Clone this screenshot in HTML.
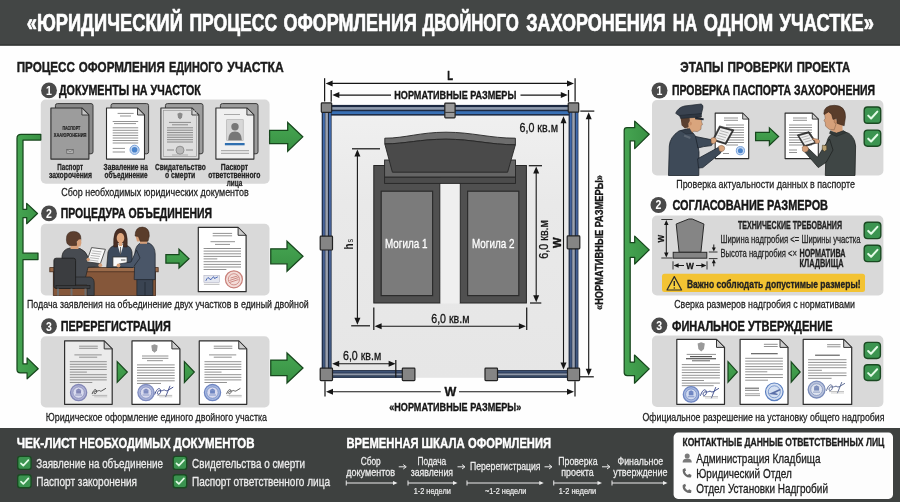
<!DOCTYPE html>
<html lang="ru"><head><meta charset="utf-8"><title>Юридический процесс оформления двойного захоронения</title>
<style>html,body{margin:0;padding:0;background:#fefefe;}body{width:900px;height:502px;overflow:hidden;font-family:"Liberation Sans",sans-serif;}svg{display:block;will-change:transform;font-family:"Liberation Sans",sans-serif;}</style></head><body>
<svg width="900" height="502" viewBox="0 0 900 502">
<defs><linearGradient id="gg" x1="0" y1="0" x2="0" y2="1"><stop offset="0" stop-color="#46a552"/><stop offset="1" stop-color="#389143"/></linearGradient><linearGradient id="dbg" x1="0" y1="0" x2="0" y2="1"><stop offset="0" stop-color="#f0f0f0"/><stop offset="0.35" stop-color="#e9e9e9"/><stop offset="1" stop-color="#e6e6e6"/></linearGradient><linearGradient id="rb" x1="0" y1="0" x2="0" y2="1"><stop offset="0" stop-color="#3f6db3"/><stop offset="0.45" stop-color="#47639a"/><stop offset="1" stop-color="#40577d"/></linearGradient><linearGradient id="gv" x1="0" y1="0" x2="1" y2="0"><stop offset="0" stop-color="#46a552"/><stop offset="1" stop-color="#389143"/></linearGradient></defs>
<rect x="0.00" y="0.00" width="900.00" height="502.00" fill="#fefefe"/>
<rect x="0.00" y="0.00" width="900.00" height="45.60" fill="#434645"/>
<rect x="0.00" y="44.20" width="900.00" height="1.40" fill="#343736"/>
<text x="26.80" y="31.10" font-size="24" font-weight="bold" fill="#fff" textLength="156.00" lengthAdjust="spacingAndGlyphs" stroke="#fff" stroke-width="0.72" stroke-linejoin="round">«ЮРИДИЧЕСКИЙ</text>
<text x="189.40" y="31.10" font-size="24" font-weight="bold" fill="#fff" textLength="87.80" lengthAdjust="spacingAndGlyphs" stroke="#fff" stroke-width="0.72" stroke-linejoin="round">ПРОЦЕСС</text>
<text x="283.60" y="31.10" font-size="24" font-weight="bold" fill="#fff" textLength="133.20" lengthAdjust="spacingAndGlyphs" stroke="#fff" stroke-width="0.72" stroke-linejoin="round">ОФОРМЛЕНИЯ</text>
<text x="422.40" y="31.10" font-size="24" font-weight="bold" fill="#fff" textLength="96.40" lengthAdjust="spacingAndGlyphs" stroke="#fff" stroke-width="0.72" stroke-linejoin="round">ДВОЙНОГО</text>
<text x="526.20" y="31.10" font-size="24" font-weight="bold" fill="#fff" textLength="139.40" lengthAdjust="spacingAndGlyphs" stroke="#fff" stroke-width="0.72" stroke-linejoin="round">ЗАХОРОНЕНИЯ</text>
<text x="672.80" y="31.10" font-size="24" font-weight="bold" fill="#fff" textLength="24.40" lengthAdjust="spacingAndGlyphs" stroke="#fff" stroke-width="0.72" stroke-linejoin="round">НА</text>
<text x="703.80" y="31.10" font-size="24" font-weight="bold" fill="#fff" textLength="69.40" lengthAdjust="spacingAndGlyphs" stroke="#fff" stroke-width="0.72" stroke-linejoin="round">ОДНОМ</text>
<text x="779.60" y="31.10" font-size="24" font-weight="bold" fill="#fff" textLength="94.20" lengthAdjust="spacingAndGlyphs" stroke="#fff" stroke-width="0.72" stroke-linejoin="round">УЧАСТКЕ»</text>
<text x="16.70" y="71.90" font-size="15" font-weight="bold" fill="#1c1c1c" textLength="58.20" lengthAdjust="spacingAndGlyphs" stroke="#1c1c1c" stroke-width="0.45" stroke-linejoin="round">ПРОЦЕСС</text>
<text x="78.70" y="71.90" font-size="15" font-weight="bold" fill="#1c1c1c" textLength="86.10" lengthAdjust="spacingAndGlyphs" stroke="#1c1c1c" stroke-width="0.45" stroke-linejoin="round">ОФОРМЛЕНИЯ</text>
<text x="169.00" y="71.90" font-size="15" font-weight="bold" fill="#1c1c1c" textLength="53.80" lengthAdjust="spacingAndGlyphs" stroke="#1c1c1c" stroke-width="0.45" stroke-linejoin="round">ЕДИНОГО</text>
<text x="227.30" y="71.90" font-size="15" font-weight="bold" fill="#1c1c1c" textLength="56.40" lengthAdjust="spacingAndGlyphs" stroke="#1c1c1c" stroke-width="0.45" stroke-linejoin="round">УЧАСТКА</text>
<circle cx="49.00" cy="90.40" r="7.90" fill="#4a4a4a"/>
<g transform="translate(49.00 94.85) scale(0.84 1)"><text x="0" y="0" font-size="12.6" font-weight="bold" fill="#fff" text-anchor="middle">1</text></g>
<text x="59.00" y="95.30" font-size="14" font-weight="bold" fill="#161616" textLength="141.75" lengthAdjust="spacingAndGlyphs" stroke="#161616" stroke-width="0.42" stroke-linejoin="round">ДОКУМЕНТЫ НА УЧАСТОК</text>
<rect x="40.80" y="99.50" width="228.80" height="84.25" rx="5" fill="#d9d9d9"/>
<path d="M40.8,134.3 L21,134.3 Q17,134.3 17,138.3 L17,369.5 Q17,372.9 20.4,372.9 L27.1,372.9 L27.1,378.8 L38.2,368.7 L27.1,357.9 L27.1,363.9 L23,363.9 L23,259.5 L38,259.5 L38,253.2 L23,253.2 L23,217.7 L26.7,217.7 L26.7,223.7 L37.5,213.5 L26.7,203.4 L26.7,209.3 L23,209.3 L23,140.1 L40.8,140.1 Z" fill="url(#gv)" stroke="#17471d" stroke-width="1.25" stroke-linejoin="round"/>
<rect x="55.40" y="103.60" width="37.60" height="50.20" rx="2" fill="#8a8a8a" stroke="#3a3a3a" stroke-width="1"/>
<path d="M50.90,108.00 L81.90,108.00 L88.90,115.00 L88.90,159.10 L50.90,159.10 Z" fill="#9c9c9c" stroke="#2e2e2e" stroke-width="1.1" stroke-linejoin="round"/>
<path d="M81.90,108.00 L81.90,115.00 L88.90,115.00 Z" fill="#c4c4c4" stroke="#2e2e2e" stroke-width="0.8800000000000001" stroke-linejoin="round"/>
<text x="62.40" y="129.90" font-size="5.8" font-weight="bold" fill="#242424" textLength="17.90" lengthAdjust="spacingAndGlyphs" stroke="#242424" stroke-width="0.22" stroke-linejoin="round">ПАСПОРТ</text>
<text x="53.80" y="137.20" font-size="5.8" font-weight="bold" fill="#242424" textLength="32.60" lengthAdjust="spacingAndGlyphs" stroke="#242424" stroke-width="0.22" stroke-linejoin="round">ХААЮРОНЕНИЯ</text>
<rect x="66.80" y="149.60" width="6.40" height="4.00" fill="#b5b5b5" stroke="#555" stroke-width="0.6"/>
<path d="M66.8,149.6 L70,152 L73.2,149.6" fill="none" stroke="#555" stroke-width="0.5"/>
<rect x="111.00" y="103.60" width="37.60" height="50.20" rx="2" fill="#9d9d9d" stroke="#3a3a3a" stroke-width="1"/>
<path d="M106.50,108.00 L137.50,108.00 L144.50,115.00 L144.50,159.10 L106.50,159.10 Z" fill="#fff" stroke="#2e2e2e" stroke-width="1.1" stroke-linejoin="round"/>
<path d="M137.50,108.00 L137.50,115.00 L144.50,115.00 Z" fill="#cfcfcf" stroke="#2e2e2e" stroke-width="0.8800000000000001" stroke-linejoin="round"/>
<line x1="117.60" y1="113.40" x2="133.70" y2="113.40" stroke="#939393" stroke-width="1.0"/>
<line x1="120.00" y1="116.00" x2="131.00" y2="116.00" stroke="#939393" stroke-width="1.0"/>
<line x1="112.70" y1="121.50" x2="138.20" y2="121.50" stroke="#939393" stroke-width="1.0"/>
<line x1="114.00" y1="123.60" x2="136.00" y2="123.60" stroke="#939393" stroke-width="1.0"/>
<line x1="112.70" y1="127.80" x2="138.20" y2="127.80" stroke="#939393" stroke-width="1.0"/>
<line x1="112.70" y1="130.30" x2="138.20" y2="130.30" stroke="#939393" stroke-width="1.0"/>
<line x1="112.70" y1="132.90" x2="138.20" y2="132.90" stroke="#939393" stroke-width="1.0"/>
<line x1="112.70" y1="135.40" x2="138.20" y2="135.40" stroke="#939393" stroke-width="1.0"/>
<line x1="112.70" y1="138.00" x2="138.20" y2="138.00" stroke="#939393" stroke-width="1.0"/>
<line x1="112.70" y1="140.50" x2="138.20" y2="140.50" stroke="#939393" stroke-width="1.0"/>
<line x1="112.70" y1="143.00" x2="138.20" y2="143.00" stroke="#939393" stroke-width="1.0"/>
<line x1="112.70" y1="148.40" x2="125.00" y2="148.40" stroke="#939393" stroke-width="1.0"/>
<line x1="112.70" y1="152.00" x2="125.00" y2="152.00" stroke="#939393" stroke-width="1.0"/>
<circle cx="134.60" cy="149.80" r="4.60" fill="#c5d8f2" stroke="#6d9ad6" stroke-width="0.9"/>
<circle cx="134.60" cy="149.80" r="2.80" fill="#4a84cc"/>
<rect x="165.40" y="103.60" width="37.60" height="50.20" rx="2" fill="#9d9d9d" stroke="#3a3a3a" stroke-width="1"/>
<path d="M160.90,108.00 L191.90,108.00 L198.90,115.00 L198.90,159.10 L160.90,159.10 Z" fill="#dedede" stroke="#2e2e2e" stroke-width="1.1" stroke-linejoin="round"/>
<path d="M191.90,108.00 L191.90,115.00 L198.90,115.00 Z" fill="#cfcfcf" stroke="#2e2e2e" stroke-width="0.8800000000000001" stroke-linejoin="round"/>
<rect x="163.40" y="110.50" width="33.00" height="46.10" fill="none" stroke="#9a9a9a" stroke-width="0.7"/>
<path d="M180,112.5 l2.6,1.2 l-0.6,3.8 l-2,2 l-2,-2 l-0.6,-3.8 Z" fill="#8a8a8a"/>
<line x1="169.00" y1="122.40" x2="191.00" y2="122.40" stroke="#8a8a8a" stroke-width="1.0"/>
<line x1="172.00" y1="124.80" x2="188.00" y2="124.80" stroke="#8a8a8a" stroke-width="1.0"/>
<line x1="167.00" y1="127.80" x2="193.00" y2="127.80" stroke="#8a8a8a" stroke-width="1.0"/>
<line x1="167.00" y1="130.20" x2="193.00" y2="130.20" stroke="#8a8a8a" stroke-width="1.0"/>
<line x1="167.00" y1="132.60" x2="193.00" y2="132.60" stroke="#8a8a8a" stroke-width="1.0"/>
<line x1="167.00" y1="135.00" x2="193.00" y2="135.00" stroke="#8a8a8a" stroke-width="1.0"/>
<line x1="167.00" y1="137.30" x2="193.00" y2="137.30" stroke="#8a8a8a" stroke-width="1.0"/>
<line x1="167.00" y1="139.70" x2="193.00" y2="139.70" stroke="#8a8a8a" stroke-width="1.0"/>
<line x1="167.00" y1="142.00" x2="193.00" y2="142.00" stroke="#8a8a8a" stroke-width="1.0"/>
<line x1="167.00" y1="150.00" x2="174.00" y2="150.00" stroke="#8a8a8a" stroke-width="1.0"/>
<line x1="186.00" y1="150.00" x2="193.00" y2="150.00" stroke="#8a8a8a" stroke-width="1.0"/>
<circle cx="180.00" cy="150.20" r="4.00" fill="#b9b9b9" stroke="#8a8a8a" stroke-width="0.9"/>
<line x1="172.00" y1="155.00" x2="188.00" y2="155.00" stroke="#9a9a9a" stroke-width="0.7"/>
<rect x="220.40" y="103.60" width="37.60" height="50.20" rx="2" fill="#9d9d9d" stroke="#3a3a3a" stroke-width="1"/>
<path d="M215.90,108.00 L246.90,108.00 L253.90,115.00 L253.90,159.10 L215.90,159.10 Z" fill="#f0f0f0" stroke="#2e2e2e" stroke-width="1.1" stroke-linejoin="round"/>
<path d="M246.90,108.00 L246.90,115.00 L253.90,115.00 Z" fill="#cfcfcf" stroke="#2e2e2e" stroke-width="0.8800000000000001" stroke-linejoin="round"/>
<line x1="224.00" y1="114.50" x2="240.00" y2="114.50" stroke="#a8a8a8" stroke-width="1.0"/>
<rect x="226.70" y="119.70" width="16.50" height="20.60" fill="#d7d7d7" stroke="#aaa" stroke-width="0.6"/>
<circle cx="235.00" cy="126.80" r="3.70" fill="#777"/>
<path d="M228.2,140.3 Q228.2,131.6 235,131.6 Q241.8,131.6 241.8,140.3 Z" fill="#777"/>
<rect x="224.90" y="143.00" width="19.70" height="2.30" fill="#2f6fb0"/>
<line x1="221.00" y1="150.70" x2="249.00" y2="150.70" stroke="#a0a0a0" stroke-width="1.0"/>
<line x1="221.00" y1="153.30" x2="249.00" y2="153.30" stroke="#a0a0a0" stroke-width="1.0"/>
<text x="57.20" y="169.60" font-size="8.8" font-weight="bold" fill="#222" textLength="25.80" lengthAdjust="spacingAndGlyphs" stroke="#222" stroke-width="0.26" stroke-linejoin="round">Паспорт</text>
<text x="48.90" y="177.60" font-size="8.8" font-weight="bold" fill="#222" textLength="43.10" lengthAdjust="spacingAndGlyphs" stroke="#222" stroke-width="0.26" stroke-linejoin="round">захорочения</text>
<text x="103.60" y="169.60" font-size="8.8" font-weight="bold" fill="#222" textLength="44.40" lengthAdjust="spacingAndGlyphs" stroke="#222" stroke-width="0.26" stroke-linejoin="round">Заваление на</text>
<text x="104.50" y="177.60" font-size="8.8" font-weight="bold" fill="#222" textLength="43.00" lengthAdjust="spacingAndGlyphs" stroke="#222" stroke-width="0.26" stroke-linejoin="round">объединение</text>
<text x="155.00" y="169.60" font-size="8.8" font-weight="bold" fill="#222" textLength="50.70" lengthAdjust="spacingAndGlyphs" stroke="#222" stroke-width="0.26" stroke-linejoin="round">Свидательство</text>
<text x="164.90" y="177.60" font-size="8.8" font-weight="bold" fill="#222" textLength="30.40" lengthAdjust="spacingAndGlyphs" stroke="#222" stroke-width="0.26" stroke-linejoin="round">о смерти</text>
<text x="220.80" y="169.60" font-size="8.8" font-weight="bold" fill="#222" textLength="27.40" lengthAdjust="spacingAndGlyphs" stroke="#222" stroke-width="0.26" stroke-linejoin="round">Паскорт</text>
<text x="208.20" y="177.60" font-size="8.8" font-weight="bold" fill="#222" textLength="52.20" lengthAdjust="spacingAndGlyphs" stroke="#222" stroke-width="0.26" stroke-linejoin="round">ответственного</text>
<text x="226.70" y="186.00" font-size="8.8" font-weight="bold" fill="#222" textLength="15.60" lengthAdjust="spacingAndGlyphs" stroke="#222" stroke-width="0.26" stroke-linejoin="round">лица</text>
<text x="61.25" y="196.30" font-size="11" fill="#222" textLength="187.50" lengthAdjust="spacingAndGlyphs" stroke="#222" stroke-width="0.26" stroke-linejoin="round">Сбор необходимых юридических документов</text>
<path d="M269.60,130.30 L287.70,130.30 L287.70,122.50 L302.80,136.85 L287.70,151.20 L287.70,143.70 L269.60,143.70 Z" fill="url(#gg)" stroke="#17471d" stroke-width="1.25" stroke-linejoin="miter"/>
<circle cx="49.00" cy="213.40" r="7.90" fill="#4a4a4a"/>
<g transform="translate(49.00 217.85) scale(0.84 1)"><text x="0" y="0" font-size="12.6" font-weight="bold" fill="#fff" text-anchor="middle">2</text></g>
<text x="60.75" y="217.60" font-size="14" font-weight="bold" fill="#161616" textLength="151.25" lengthAdjust="spacingAndGlyphs" stroke="#161616" stroke-width="0.42" stroke-linejoin="round">ПРОЦЕДУРА ОБЪЕДИНЕНИЯ</text>
<rect x="40.80" y="223.75" width="228.70" height="71.75" rx="5" fill="#d9d9d9"/>
<rect x="53.30" y="271.60" width="102.30" height="23.90" fill="#85573a" stroke="#4a2f20" stroke-width="0.8"/>
<rect x="49.80" y="267.60" width="108.40" height="4.20" fill="#9b6b4a" stroke="#4a2f20" stroke-width="0.8"/>
<path d="M106.7,267.5 L108,252 Q110,246 116,245 L125,245 Q131,246 132,252 L132.4,267.5 Z" fill="#3d4a5c" stroke="#222" stroke-width="0.7"/>
<path d="M117.6,245 L123.4,245 L120.5,255 Z" fill="#f2f2f2"/>
<line x1="120.50" y1="247.00" x2="120.50" y2="255.00" stroke="#333" stroke-width="0.7"/>
<path d="M113.8,247 Q112.6,228.5 120.5,228.5 Q128.4,228.5 127.1,247 L123.5,247 L123.5,243 L117.5,243 L117.5,247 Z" fill="#4a2f25" stroke="#2a1a14" stroke-width="0.5"/>
<ellipse cx="120.5" cy="238" rx="3.8" ry="5" fill="#e0a880"/>
<rect x="118.80" y="242.00" width="3.40" height="4.00" fill="#e0a880"/>
<rect x="112.90" y="257.00" width="14.20" height="9.80" fill="#fafafa" stroke="#333" stroke-width="0.8"/>
<line x1="121.00" y1="260.00" x2="125.50" y2="260.00" stroke="#333" stroke-width="0.8"/>
<rect x="136.90" y="279.00" width="16.00" height="16.50" fill="#3a4452" stroke="#1e242c" stroke-width="0.7"/>
<line x1="145.00" y1="282.00" x2="145.00" y2="295.50" stroke="#1e242c" stroke-width="0.7"/>
<path d="M134.2,279.6 L135,252 Q136,244 142,242.5 L149,243 Q155,246 155.2,254 L155.2,279.6 Z" fill="#4a5668" stroke="#1e242c" stroke-width="0.7"/>
<path d="M136.5,250 L131,262 L119,264 L118.2,267 L133,267.5 L140,258 Z" fill="#4a5668" stroke="#1e242c" stroke-width="0.7"/>
<rect x="140.00" y="239.50" width="7.00" height="4.30" fill="#d6a07a"/>
<path d="M135.3,235 L139,233.5 L140.5,241.3 L137,241.5 Z" fill="#d6a07a"/>
<path d="M135.1,236 Q135,227 142.5,227.1 Q149.6,227.5 149.3,236 L148,241.3 L140.3,241.3 L138.4,236.5 Z" fill="#5a3d2b" stroke="#2e1d13" stroke-width="0.5"/>
<circle cx="118.50" cy="265.50" r="1.90" fill="#d6a07a"/>
<path d="M61.5,284 L62,256 Q63,249 70,248 L80,248.5 Q86,251 88,257 L99.5,263 L100.5,266.8 L88,267.3 L84,284 Z" fill="#474b51" stroke="#222" stroke-width="0.7"/>
<path d="M70,277 L90,277 Q94.2,278 94.2,283 L94.2,295.5 L87,295.5 L87,285 L70,285 Z" fill="#41454b" stroke="#222" stroke-width="0.7"/>
<rect x="70.50" y="243.00" width="8.00" height="6.00" fill="#d6a07a"/>
<path d="M66.4,240 Q65.8,231.4 73.6,231.4 Q81.2,231.7 80.9,239 L80.2,243.4 L78.8,243.8 L78.2,240.4 L76.6,241.4 L76.6,245.4 L69.4,245.6 L67,243.4 Z" fill="#5c3e2e" stroke="#2e1d13" stroke-width="0.5"/>
<path d="M78.8,239.4 L81,239.2 L81.4,243 L80.4,246.4 L77.4,246.6 L76.8,241.6 Z" fill="#d6a07a"/>
<rect x="53.90" y="258.20" width="21.70" height="30.20" rx="2.2" fill="#3b3d40" stroke="#1c1c1c" stroke-width="0.8"/>
<rect x="56.00" y="285.50" width="34.00" height="3.10" fill="#3b3d40" stroke="#1c1c1c" stroke-width="0.6"/>
<rect x="70.50" y="288.60" width="2.00" height="6.90" fill="#6e6e6e"/>
<rect x="84.50" y="288.60" width="2.00" height="6.90" fill="#6e6e6e"/>
<rect x="57.00" y="288.60" width="2.00" height="6.90" fill="#6e6e6e"/>
<path d="M91.6,247.6 L105.4,249.3 L100.4,263.6 L86.6,261.8 Z" fill="#fafafa" stroke="#333" stroke-width="0.8"/>
<line x1="92.30" y1="250.80" x2="101.50" y2="251.90" stroke="#9a9a9a" stroke-width="0.7"/>
<line x1="91.50" y1="253.10" x2="100.70" y2="254.20" stroke="#9a9a9a" stroke-width="0.7"/>
<line x1="90.70" y1="255.40" x2="99.90" y2="256.50" stroke="#9a9a9a" stroke-width="0.7"/>
<line x1="89.90" y1="257.70" x2="99.10" y2="258.80" stroke="#9a9a9a" stroke-width="0.7"/>
<line x1="89.10" y1="260.00" x2="98.30" y2="261.10" stroke="#9a9a9a" stroke-width="0.7"/>
<circle cx="100.30" cy="265.20" r="1.90" fill="#d6a07a"/>
<circle cx="88.20" cy="259.50" r="1.70" fill="#d6a07a"/>
<path d="M165.90,254.70 L179.00,254.70 L179.00,249.30 L189.00,258.65 L179.00,268.00 L179.00,263.20 L165.90,263.20 Z" fill="url(#gg)" stroke="#17471d" stroke-width="1.25" stroke-linejoin="miter"/>
<path d="M198.30,227.30 L238.10,227.30 L246.10,235.30 L246.10,291.70 L198.30,291.70 Z" fill="#fff" stroke="#2e2e2e" stroke-width="1.2" stroke-linejoin="round"/>
<path d="M238.10,227.30 L238.10,235.30 L246.10,235.30 Z" fill="#cfcfcf" stroke="#2e2e2e" stroke-width="0.96" stroke-linejoin="round"/>
<line x1="212.70" y1="233.40" x2="232.10" y2="233.40" stroke="#939393" stroke-width="1.0"/>
<line x1="212.70" y1="235.80" x2="232.10" y2="235.80" stroke="#939393" stroke-width="1.0"/>
<line x1="210.50" y1="241.70" x2="235.00" y2="241.70" stroke="#939393" stroke-width="1.0"/>
<line x1="215.00" y1="244.40" x2="230.00" y2="244.40" stroke="#939393" stroke-width="1.0"/>
<line x1="203.60" y1="248.50" x2="241.00" y2="248.50" stroke="#939393" stroke-width="1.0"/>
<line x1="203.60" y1="251.10" x2="241.00" y2="251.10" stroke="#939393" stroke-width="1.0"/>
<line x1="203.60" y1="253.80" x2="241.00" y2="253.80" stroke="#939393" stroke-width="1.0"/>
<line x1="203.60" y1="256.40" x2="241.00" y2="256.40" stroke="#939393" stroke-width="1.0"/>
<line x1="203.60" y1="258.90" x2="217.30" y2="258.90" stroke="#939393" stroke-width="1.0"/>
<line x1="203.60" y1="261.70" x2="241.00" y2="261.70" stroke="#939393" stroke-width="1.0"/>
<line x1="203.60" y1="264.40" x2="241.00" y2="264.40" stroke="#939393" stroke-width="1.0"/>
<line x1="203.60" y1="267.00" x2="241.00" y2="267.00" stroke="#939393" stroke-width="1.0"/>
<line x1="203.60" y1="269.50" x2="226.40" y2="269.50" stroke="#939393" stroke-width="1.0"/>
<line x1="207.00" y1="248.50" x2="241.00" y2="248.50" stroke="#8c8c8c" stroke-width="1"/>
<rect x="203.90" y="275.30" width="15.60" height="7.30" fill="#e4e7f0" stroke="#aab" stroke-width="0.5"/>
<path d="M206,280.5 q2,-5 3.5,-1.5 q1.5,2 3,-1.5 q1.5,-2 2,1 l3,-1.5" fill="none" stroke="#3f5fb0" stroke-width="0.9" stroke-linecap="round"/>
<line x1="203.90" y1="284.30" x2="219.50" y2="284.30" stroke="#9a9a9a" stroke-width="0.7"/>
<circle cx="233.90" cy="279.30" r="8.50" fill="#f3dcd8" stroke="#c9807a" stroke-width="1.2"/>
<circle cx="233.90" cy="279.30" r="5.60" fill="none" stroke="#c9807a" stroke-width="0.8"/>
<path d="M229.5,280.5 l9,-3 M229.5,282.5 l9,-3 M230.5,278 l7,-2" fill="none" stroke="#c4766f" stroke-width="0.8"/>
<text x="27.00" y="308.30" font-size="11" fill="#222" textLength="281.75" lengthAdjust="spacingAndGlyphs" stroke="#222" stroke-width="0.26" stroke-linejoin="round">Подача заявления на объединение двух участков в единый двойной</text>
<path d="M270.75,248.75 L287.00,248.75 L287.00,241.25 L303.00,256.25 L287.00,271.25 L287.00,263.75 L270.75,263.75 Z" fill="url(#gg)" stroke="#17471d" stroke-width="1.25" stroke-linejoin="miter"/>
<circle cx="49.00" cy="326.20" r="7.90" fill="#4a4a4a"/>
<g transform="translate(49.00 330.65) scale(0.84 1)"><text x="0" y="0" font-size="12.6" font-weight="bold" fill="#fff" text-anchor="middle">3</text></g>
<text x="60.75" y="331.30" font-size="14" font-weight="bold" fill="#161616" textLength="110.00" lengthAdjust="spacingAndGlyphs" stroke="#161616" stroke-width="0.42" stroke-linejoin="round">ПЕРЕРЕГИСТРАЦИЯ</text>
<rect x="40.80" y="336.25" width="228.70" height="71.25" rx="5" fill="#d9d9d9"/>
<path d="M64.60,340.90 L104.20,340.90 L112.20,348.90 L112.20,404.30 L64.60,404.30 Z" fill="#ebebeb" stroke="#2e2e2e" stroke-width="1.2" stroke-linejoin="round"/>
<path d="M104.20,340.90 L104.20,348.90 L112.20,348.90 Z" fill="#cfcfcf" stroke="#2e2e2e" stroke-width="0.96" stroke-linejoin="round"/>
<line x1="79.10" y1="346.20" x2="97.80" y2="346.20" stroke="#939393" stroke-width="1.0"/>
<line x1="79.10" y1="348.30" x2="97.80" y2="348.30" stroke="#939393" stroke-width="1.0"/>
<line x1="74.40" y1="354.90" x2="101.70" y2="354.90" stroke="#939393" stroke-width="1.0"/>
<line x1="79.10" y1="357.20" x2="97.20" y2="357.20" stroke="#939393" stroke-width="1.0"/>
<line x1="69.80" y1="361.70" x2="106.80" y2="361.70" stroke="#939393" stroke-width="1.0"/>
<line x1="69.80" y1="364.30" x2="106.80" y2="364.30" stroke="#939393" stroke-width="1.0"/>
<line x1="69.80" y1="366.90" x2="106.80" y2="366.90" stroke="#939393" stroke-width="1.0"/>
<line x1="69.80" y1="369.50" x2="106.80" y2="369.50" stroke="#939393" stroke-width="1.0"/>
<line x1="69.80" y1="372.10" x2="86.90" y2="372.10" stroke="#939393" stroke-width="1.0"/>
<line x1="69.80" y1="374.70" x2="106.80" y2="374.70" stroke="#939393" stroke-width="1.0"/>
<line x1="69.80" y1="377.30" x2="106.80" y2="377.30" stroke="#939393" stroke-width="1.0"/>
<line x1="69.80" y1="379.90" x2="106.80" y2="379.90" stroke="#939393" stroke-width="1.0"/>
<line x1="69.80" y1="382.50" x2="92.30" y2="382.50" stroke="#939393" stroke-width="1.0"/>
<circle cx="78.60" cy="392.60" r="8.10" fill="#aeb1d4" stroke="#8286b6" stroke-width="1.3"/>
<circle cx="78.60" cy="392.60" r="5.67" fill="#d9dbee" stroke="#8286b6" stroke-width="0.7"/>
<rect x="76.17" y="390.17" width="4.86" height="3.40" fill="#8286b6"/>
<path d="M75.68,390.17 L78.60,388.39 L81.52,390.17 Z" fill="#8286b6"/>
<line x1="75.20" y1="395.03" x2="82.00" y2="395.03" stroke="#8286b6" stroke-width="0.8"/>
<path d="M92.2,393.7 c1.5,-4.5 4.0,-5.5 4.4,-2.4 c0.3,2.4 -3.0,3.6 -2.4,1.0 c0.6,-2.2 3.0,-0.6 4.2,-1.6 c1.5,-0.8 1.6,1.2 3.2,0.2 l4.0,-2.4" fill="none" stroke="#4a4a4a" stroke-width="0.95" stroke-linecap="round" stroke-linejoin="round"/>
<line x1="92.20" y1="395.40" x2="107.20" y2="395.40" stroke="#8f8f8f" stroke-width="0.6"/>
<line x1="94.20" y1="396.80" x2="107.20" y2="396.80" stroke="#a5a5a5" stroke-width="0.5"/>
<path d="M117.20,361.70 L127.30,372.05 L117.20,382.40 Z" fill="url(#gg)" stroke="#17471d" stroke-width="1.2"/>
<path d="M132.00,340.90 L171.90,340.90 L179.90,348.90 L179.90,404.30 L132.00,404.30 Z" fill="#fff" stroke="#2e2e2e" stroke-width="1.2" stroke-linejoin="round"/>
<path d="M171.90,340.90 L171.90,348.90 L179.90,348.90 Z" fill="#cfcfcf" stroke="#2e2e2e" stroke-width="0.96" stroke-linejoin="round"/>
<path d="M151.3,345.4 l3.2,-1.2 l3.2,1.2 l-0.7,5 l-2.5,2.4 l-2.5,-2.4 Z" fill="#9a9a9a"/>
<line x1="142.00" y1="356.00" x2="168.40" y2="356.00" stroke="#939393" stroke-width="1.0"/>
<line x1="142.00" y1="358.30" x2="168.40" y2="358.30" stroke="#939393" stroke-width="1.0"/>
<line x1="147.00" y1="360.70" x2="162.90" y2="360.70" stroke="#939393" stroke-width="1.0"/>
<line x1="137.00" y1="364.90" x2="174.70" y2="364.90" stroke="#939393" stroke-width="1.0"/>
<line x1="137.00" y1="367.55" x2="174.70" y2="367.55" stroke="#939393" stroke-width="1.0"/>
<line x1="137.00" y1="370.20" x2="174.70" y2="370.20" stroke="#939393" stroke-width="1.0"/>
<line x1="137.00" y1="372.85" x2="174.70" y2="372.85" stroke="#939393" stroke-width="1.0"/>
<line x1="137.00" y1="375.50" x2="174.70" y2="375.50" stroke="#939393" stroke-width="1.0"/>
<line x1="137.00" y1="378.15" x2="174.70" y2="378.15" stroke="#939393" stroke-width="1.0"/>
<line x1="137.00" y1="380.80" x2="174.70" y2="380.80" stroke="#939393" stroke-width="1.0"/>
<line x1="137.00" y1="383.45" x2="161.00" y2="383.45" stroke="#939393" stroke-width="1.0"/>
<circle cx="146.00" cy="392.60" r="8.10" fill="#a9b3da" stroke="#7f8cc0" stroke-width="1.3"/>
<circle cx="146.00" cy="392.60" r="5.67" fill="#d9dbee" stroke="#7f8cc0" stroke-width="0.7"/>
<rect x="143.57" y="390.17" width="4.86" height="3.40" fill="#7f8cc0"/>
<path d="M143.08,390.17 L146.00,388.39 L148.92,390.17 Z" fill="#7f8cc0"/>
<line x1="142.60" y1="395.03" x2="149.40" y2="395.03" stroke="#7f8cc0" stroke-width="0.8"/>
<path d="M154.8,394.2 c2.0,-6.1 5.4,-7.4 5.9,-3.2 c0.4,3.2 -4.1,4.9 -3.2,1.4 c0.8,-3.0 4.1,-0.8 5.7,-2.2 c2.0,-1.1 2.2,1.6 4.3,0.3 l5.4,-3.2" fill="none" stroke="#3d4a8a" stroke-width="0.95" stroke-linecap="round" stroke-linejoin="round"/>
<path d="M165.7,396.7 l4.2,-10.5" fill="none" stroke="#3d4a8a" stroke-width="0.9" stroke-linecap="round"/>
<line x1="157.20" y1="395.40" x2="172.20" y2="395.40" stroke="#8f8f8f" stroke-width="0.6"/>
<line x1="159.20" y1="396.80" x2="172.20" y2="396.80" stroke="#a5a5a5" stroke-width="0.5"/>
<path d="M184.40,361.70 L194.30,372.05 L184.40,382.40 Z" fill="url(#gg)" stroke="#17471d" stroke-width="1.2"/>
<path d="M199.25,340.90 L238.75,340.90 L246.75,348.90 L246.75,404.30 L199.25,404.30 Z" fill="#fff" stroke="#2e2e2e" stroke-width="1.2" stroke-linejoin="round"/>
<path d="M238.75,340.90 L238.75,348.90 L246.75,348.90 Z" fill="#cfcfcf" stroke="#2e2e2e" stroke-width="0.96" stroke-linejoin="round"/>
<line x1="213.75" y1="346.20" x2="232.35" y2="346.20" stroke="#939393" stroke-width="1.0"/>
<line x1="213.75" y1="348.30" x2="232.35" y2="348.30" stroke="#939393" stroke-width="1.0"/>
<line x1="209.05" y1="354.90" x2="236.25" y2="354.90" stroke="#939393" stroke-width="1.0"/>
<line x1="213.75" y1="357.20" x2="231.75" y2="357.20" stroke="#939393" stroke-width="1.0"/>
<line x1="204.45" y1="361.70" x2="241.35" y2="361.70" stroke="#939393" stroke-width="1.0"/>
<line x1="204.45" y1="364.30" x2="241.35" y2="364.30" stroke="#939393" stroke-width="1.0"/>
<line x1="204.45" y1="366.90" x2="241.35" y2="366.90" stroke="#939393" stroke-width="1.0"/>
<line x1="204.45" y1="369.50" x2="241.35" y2="369.50" stroke="#939393" stroke-width="1.0"/>
<line x1="204.45" y1="372.10" x2="221.55" y2="372.10" stroke="#939393" stroke-width="1.0"/>
<line x1="204.45" y1="374.70" x2="241.35" y2="374.70" stroke="#939393" stroke-width="1.0"/>
<line x1="204.45" y1="377.30" x2="241.35" y2="377.30" stroke="#939393" stroke-width="1.0"/>
<line x1="204.45" y1="379.90" x2="241.35" y2="379.90" stroke="#939393" stroke-width="1.0"/>
<line x1="204.45" y1="382.50" x2="226.95" y2="382.50" stroke="#939393" stroke-width="1.0"/>
<circle cx="212.50" cy="392.60" r="8.10" fill="#a6b8e0" stroke="#6f86c2" stroke-width="1.3"/>
<circle cx="212.50" cy="392.60" r="5.67" fill="#d9dbee" stroke="#6f86c2" stroke-width="0.7"/>
<rect x="210.07" y="390.17" width="4.86" height="3.40" fill="#6f86c2"/>
<path d="M209.58,390.17 L212.50,388.39 L215.42,390.17 Z" fill="#6f86c2"/>
<line x1="209.10" y1="395.03" x2="215.90" y2="395.03" stroke="#6f86c2" stroke-width="0.8"/>
<path d="M226.7,393.7 c1.5,-4.5 4.0,-5.5 4.4,-2.4 c0.3,2.4 -3.0,3.6 -2.4,1.0 c0.6,-2.2 3.0,-0.6 4.2,-1.6 c1.5,-0.8 1.6,1.2 3.2,0.2 l4.0,-2.4" fill="none" stroke="#5a5a5a" stroke-width="0.95" stroke-linecap="round" stroke-linejoin="round"/>
<line x1="226.70" y1="395.40" x2="241.70" y2="395.40" stroke="#8f8f8f" stroke-width="0.6"/>
<line x1="228.70" y1="396.80" x2="241.70" y2="396.80" stroke="#a5a5a5" stroke-width="0.5"/>
<text x="45.75" y="420.60" font-size="11" fill="#222" textLength="221.25" lengthAdjust="spacingAndGlyphs" stroke="#222" stroke-width="0.26" stroke-linejoin="round">Юридическое оформление единого двойного участка</text>
<path d="M270.75,360.00 L287.00,360.00 L287.00,353.00 L303.00,368.00 L287.00,383.00 L287.00,375.50 L270.75,375.50 Z" fill="url(#gg)" stroke="#17471d" stroke-width="1.25" stroke-linejoin="miter"/>
<rect x="327.00" y="110.00" width="246.50" height="267.80" fill="url(#dbg)"/>
<rect x="327.00" y="104.90" width="246.00" height="10.70" fill="#1d2a42"/>
<rect x="327.00" y="107.09" width="246.00" height="2.62" fill="#909caf"/>
<rect x="327.00" y="111.21" width="246.00" height="2.84" fill="#3870b5"/>
<rect x="321.70" y="108.00" width="9.90" height="264.00" fill="#1d2a42"/>
<rect x="322.89" y="108.00" width="1.93" height="264.00" fill="url(#rb)"/>
<rect x="325.36" y="108.00" width="2.57" height="264.00" fill="#9aa0ad"/>
<rect x="328.98" y="108.00" width="1.93" height="264.00" fill="url(#rb)"/>
<rect x="568.60" y="108.00" width="9.80" height="264.00" fill="#1d2a42"/>
<rect x="569.78" y="108.00" width="1.91" height="264.00" fill="url(#rb)"/>
<rect x="572.23" y="108.00" width="2.55" height="264.00" fill="#9aa0ad"/>
<rect x="575.80" y="108.00" width="1.91" height="264.00" fill="url(#rb)"/>
<rect x="327.00" y="370.10" width="81.00" height="7.80" fill="#1d2a42"/>
<rect x="327.00" y="371.35" width="81.00" height="1.09" fill="#4f6790"/>
<rect x="327.00" y="373.38" width="81.00" height="2.03" fill="#8e97a8"/>
<rect x="327.00" y="376.34" width="81.00" height="0.78" fill="#3f5573"/>
<rect x="492.00" y="370.10" width="81.00" height="7.80" fill="#1d2a42"/>
<rect x="492.00" y="371.35" width="81.00" height="1.09" fill="#4f6790"/>
<rect x="492.00" y="373.38" width="81.00" height="2.03" fill="#8e97a8"/>
<rect x="492.00" y="376.34" width="81.00" height="0.78" fill="#3f5573"/>
<rect x="321.30" y="102.90" width="10.40" height="9.50" rx="0.8" fill="#858585" stroke="#222" stroke-width="1.2"/>
<rect x="444.80" y="103.10" width="10.30" height="14.70" rx="0.8" fill="#9a9a9a" stroke="#222" stroke-width="1.2"/>
<rect x="568.20" y="102.90" width="10.50" height="9.30" rx="0.8" fill="#858585" stroke="#222" stroke-width="1.2"/>
<line x1="445.20" y1="112.40" x2="454.70" y2="112.40" stroke="#2a2a2a" stroke-width="0.9"/>
<rect x="320.20" y="236.20" width="12.30" height="13.80" rx="0.8" fill="#858585" stroke="#222" stroke-width="1.2"/>
<rect x="567.20" y="235.90" width="12.60" height="12.90" rx="0.8" fill="#858585" stroke="#222" stroke-width="1.2"/>
<rect x="320.20" y="368.20" width="12.30" height="12.40" rx="0.8" fill="#858585" stroke="#222" stroke-width="1.2"/>
<rect x="567.50" y="368.20" width="12.10" height="12.40" rx="0.8" fill="#858585" stroke="#222" stroke-width="1.2"/>
<rect x="402.30" y="368.20" width="12.60" height="12.40" rx="0.8" fill="#858585" stroke="#222" stroke-width="1.2"/>
<rect x="485.00" y="368.20" width="12.50" height="12.40" rx="0.8" fill="#858585" stroke="#222" stroke-width="1.2"/>
<line x1="324.60" y1="78.20" x2="324.60" y2="101.50" stroke="#1a1a1a" stroke-width="1.25"/>
<line x1="575.10" y1="78.20" x2="575.10" y2="101.50" stroke="#1a1a1a" stroke-width="1.25"/>
<line x1="328.60" y1="83.40" x2="571.00" y2="83.40" stroke="#161616" stroke-width="1.1"/>
<path d="M325.60,83.40 L332.60,80.40 L332.60,86.40 Z" fill="#161616"/>
<path d="M574.00,83.40 L567.00,86.40 L567.00,80.40 Z" fill="#161616"/>
<text x="447.20" y="79.80" font-size="12.9" font-weight="bold" fill="#161616" textLength="5.80" lengthAdjust="spacingAndGlyphs" stroke="#161616" stroke-width="0.39" stroke-linejoin="round">L</text>
<line x1="331.20" y1="90.00" x2="331.20" y2="101.80" stroke="#1a1a1a" stroke-width="1.25"/>
<line x1="568.50" y1="90.00" x2="568.50" y2="101.80" stroke="#1a1a1a" stroke-width="1.25"/>
<line x1="335.30" y1="95.10" x2="391.00" y2="95.10" stroke="#161616" stroke-width="1.1"/>
<line x1="520.50" y1="95.10" x2="564.80" y2="95.10" stroke="#161616" stroke-width="1.1"/>
<path d="M332.30,95.10 L339.30,92.10 L339.30,98.10 Z" fill="#161616"/>
<path d="M567.80,95.10 L560.80,98.10 L560.80,92.10 Z" fill="#161616"/>
<text x="394.30" y="99.20" font-size="11.5" font-weight="bold" fill="#161616" textLength="122.00" lengthAdjust="spacingAndGlyphs" stroke="#161616" stroke-width="0.34" stroke-linejoin="round">НОРМАТИВНЫЕ РАЗМЕРЫ</text>
<line x1="580.30" y1="111.10" x2="594.30" y2="111.10" stroke="#1a1a1a" stroke-width="1.25"/>
<line x1="580.00" y1="376.80" x2="593.80" y2="376.80" stroke="#1a1a1a" stroke-width="1.25"/>
<line x1="588.70" y1="115.20" x2="588.70" y2="372.80" stroke="#161616" stroke-width="1.1"/>
<path d="M588.70,112.20 L591.70,119.20 L585.70,119.20 Z" fill="#161616"/>
<path d="M588.70,375.80 L585.70,368.80 L591.70,368.80 Z" fill="#161616"/>
<line x1="563.50" y1="119.30" x2="563.50" y2="366.60" stroke="#161616" stroke-width="1.1"/>
<path d="M563.50,116.30 L566.50,123.30 L560.50,123.30 Z" fill="#161616"/>
<path d="M563.50,369.60 L560.50,362.60 L566.50,362.60 Z" fill="#161616"/>
<g transform="translate(598.90 242.50) rotate(-90)"><text x="-67.50" y="4.00" font-size="11.5" font-weight="bold" stroke="#161616" stroke-width="0.34" stroke-linejoin="round" fill="#161616" textLength="135.00" lengthAdjust="spacingAndGlyphs">«НОРМАТИВНЫЕ РАЗМЕРЫ»</text></g>
<text x="519.50" y="132.00" font-size="12.5" fill="#161616" textLength="38.50" lengthAdjust="spacingAndGlyphs" stroke="#161616" stroke-width="0.30" stroke-linejoin="round">6,0 кв.м</text>
<line x1="325.00" y1="381.30" x2="325.00" y2="396.50" stroke="#1a1a1a" stroke-width="1.25"/>
<line x1="575.00" y1="381.30" x2="575.00" y2="396.50" stroke="#1a1a1a" stroke-width="1.25"/>
<line x1="329.00" y1="391.80" x2="440.80" y2="391.80" stroke="#161616" stroke-width="1.1"/>
<line x1="459.00" y1="391.80" x2="571.00" y2="391.80" stroke="#161616" stroke-width="1.1"/>
<path d="M326.00,391.80 L333.00,388.80 L333.00,394.80 Z" fill="#161616"/>
<path d="M574.00,391.80 L567.00,394.80 L567.00,388.80 Z" fill="#161616"/>
<text x="444.50" y="396.30" font-size="13" font-weight="bold" fill="#161616" textLength="11.80" lengthAdjust="spacingAndGlyphs" stroke="#161616" stroke-width="0.39" stroke-linejoin="round">W</text>
<text x="389.25" y="410.80" font-size="11.5" font-weight="bold" fill="#161616" textLength="132.00" lengthAdjust="spacingAndGlyphs" stroke="#161616" stroke-width="0.34" stroke-linejoin="round">«НОРМАТИВНЫЕ РАЗМЕРЫ»</text>
<line x1="395.80" y1="360.00" x2="395.80" y2="377.50" stroke="#1a1a1a" stroke-width="1.25"/>
<line x1="335.20" y1="363.80" x2="392.60" y2="363.80" stroke="#161616" stroke-width="1.1"/>
<path d="M332.20,363.80 L339.20,360.80 L339.20,366.80 Z" fill="#161616"/>
<path d="M395.60,363.80 L388.60,366.80 L388.60,360.80 Z" fill="#161616"/>
<text x="343.00" y="360.00" font-size="12" fill="#161616" textLength="38.25" lengthAdjust="spacingAndGlyphs" stroke="#161616" stroke-width="0.29" stroke-linejoin="round">6,0 кв.м</text>
<line x1="352.00" y1="148.80" x2="380.00" y2="148.80" stroke="#1a1a1a" stroke-width="1.25"/>
<line x1="351.20" y1="325.80" x2="370.00" y2="325.80" stroke="#1a1a1a" stroke-width="1.25"/>
<line x1="357.40" y1="152.50" x2="357.40" y2="321.80" stroke="#161616" stroke-width="1.1"/>
<path d="M357.40,149.50 L360.40,156.50 L354.40,156.50 Z" fill="#161616"/>
<path d="M357.40,324.80 L354.40,317.80 L360.40,317.80 Z" fill="#161616"/>
<g transform="translate(352.9 249.6) rotate(-90)"><text x="0" y="0" font-size="13" font-weight="bold" fill="#161616" textLength="6" lengthAdjust="spacingAndGlyphs">h</text><text x="7" y="0.4" font-size="8.5" fill="#161616" textLength="3.6" lengthAdjust="spacingAndGlyphs">s</text></g>
<rect x="373.80" y="165.50" width="66.20" height="137.50" fill="#505050" stroke="#262626" stroke-width="1"/>
<rect x="460.00" y="165.50" width="66.40" height="137.50" fill="#505050" stroke="#262626" stroke-width="1"/>
<rect x="381.20" y="191.20" width="51.40" height="104.40" fill="#7b7b7b" stroke="#2c2c2c" stroke-width="1.2"/>
<rect x="467.60" y="191.20" width="51.20" height="104.40" fill="#7b7b7b" stroke="#2c2c2c" stroke-width="1.2"/>
<rect x="440.60" y="183.80" width="19.00" height="119.70" fill="#efefef"/>
<rect x="384.60" y="160.00" width="130.90" height="17.20" fill="#656565" stroke="#262626" stroke-width="0.9"/>
<rect x="384.60" y="177.20" width="130.90" height="6.20" fill="#4c4c4c" stroke="#262626" stroke-width="0.9"/>
<path d="M384.8,138.2 C405,138.2 420,132.2 446,132.2 C472,132.2 490,138.2 515.4,138.2 L515.4,144.8 C490,144.8 472,139.2 446,139.2 C420,139.2 405,143.9 384.8,143.9 Z" fill="#6d6d6d" stroke="#262626" stroke-width="0.9"/>
<path d="M384.8,143.9 C405,143.9 420,139.2 446,139.2 C472,139.2 490,144.8 515.4,144.8 L507.6,172.2 L392.4,172.2 Z" fill="#4a4a4a" stroke="#262626" stroke-width="0.9"/>
<text x="385.00" y="248.00" font-size="12.5" fill="#fff" textLength="42.50" lengthAdjust="spacingAndGlyphs" stroke="#fff" stroke-width="0.30" stroke-linejoin="round">Могила 1</text>
<text x="472.00" y="248.00" font-size="12.5" fill="#fff" textLength="42.50" lengthAdjust="spacingAndGlyphs" stroke="#fff" stroke-width="0.30" stroke-linejoin="round">Могила 2</text>
<line x1="528.80" y1="165.70" x2="542.00" y2="165.70" stroke="#1a1a1a" stroke-width="1.25"/>
<line x1="530.00" y1="303.00" x2="541.30" y2="303.00" stroke="#1a1a1a" stroke-width="1.25"/>
<line x1="536.20" y1="169.50" x2="536.20" y2="299.20" stroke="#161616" stroke-width="1.1"/>
<path d="M536.20,166.50 L539.20,173.50 L533.20,173.50 Z" fill="#161616"/>
<path d="M536.20,302.20 L533.20,295.20 L539.20,295.20 Z" fill="#161616"/>
<g transform="translate(544.00 239.40) rotate(-90)"><text x="-19.40" y="4.00" font-size="12" stroke="#161616" stroke-width="0.29" stroke-linejoin="round" fill="#161616" textLength="38.80" lengthAdjust="spacingAndGlyphs">6,0 кв.м</text></g>
<g transform="translate(557.00 242.80) rotate(-90)"><text x="-5.25" y="4.00" font-size="11.5" font-weight="bold" stroke="#161616" stroke-width="0.34" stroke-linejoin="round" fill="#161616" textLength="10.50" lengthAdjust="spacingAndGlyphs">W</text></g>
<line x1="373.80" y1="307.50" x2="373.80" y2="330.00" stroke="#1a1a1a" stroke-width="1.25"/>
<line x1="526.70" y1="307.50" x2="526.70" y2="330.00" stroke="#1a1a1a" stroke-width="1.25"/>
<line x1="377.60" y1="326.20" x2="522.90" y2="326.20" stroke="#161616" stroke-width="1.1"/>
<path d="M374.60,326.20 L381.60,323.20 L381.60,329.20 Z" fill="#161616"/>
<path d="M525.90,326.20 L518.90,329.20 L518.90,323.20 Z" fill="#161616"/>
<text x="431.25" y="322.50" font-size="12" fill="#161616" textLength="38.25" lengthAdjust="spacingAndGlyphs" stroke="#161616" stroke-width="0.29" stroke-linejoin="round">6,0 кв.м</text>
<text x="680.30" y="71.90" font-size="15" font-weight="bold" fill="#1c1c1c" textLength="43.40" lengthAdjust="spacingAndGlyphs" stroke="#1c1c1c" stroke-width="0.45" stroke-linejoin="round">ЭТАПЫ</text>
<text x="727.60" y="71.90" font-size="15" font-weight="bold" fill="#1c1c1c" textLength="65.00" lengthAdjust="spacingAndGlyphs" stroke="#1c1c1c" stroke-width="0.45" stroke-linejoin="round">ПРОВЕРКИ</text>
<text x="796.70" y="71.90" font-size="15" font-weight="bold" fill="#1c1c1c" textLength="53.50" lengthAdjust="spacingAndGlyphs" stroke="#1c1c1c" stroke-width="0.45" stroke-linejoin="round">ПРОЕКТА</text>
<circle cx="659.50" cy="90.50" r="8.00" fill="#4a4a4a"/>
<g transform="translate(659.50 94.95) scale(0.84 1)"><text x="0" y="0" font-size="12.6" font-weight="bold" fill="#fff" text-anchor="middle">1</text></g>
<text x="672.00" y="95.30" font-size="14" font-weight="bold" fill="#161616" textLength="203.00" lengthAdjust="spacingAndGlyphs" stroke="#161616" stroke-width="0.42" stroke-linejoin="round">ПРОВЕРКА ПАСПОРТА ЗАХОРОНЕНИЯ</text>
<rect x="652.00" y="100.00" width="231.40" height="75.50" rx="5" fill="#d9d9d9"/>
<path d="M627,127.7 L634.7,127.7 L634.7,121.1 L649.2,134.3 L634.7,148.6 L634.7,140.8 L630.2,140.8 L630.2,242.7 L634.7,242.7 L634.7,236.1 L649.2,249.9 L634.7,264 L634.7,257.3 L630.2,257.3 L630.2,362.1 L634.5,362.1 L634.5,355 L649.2,368.9 L634.5,383.2 L634.5,375.5 L627.2,375.5 Q624.2,375.5 624.2,372.5 L624.2,130.5 Q624.2,127.7 627,127.7 Z" fill="url(#gv)" stroke="#17471d" stroke-width="1.25" stroke-linejoin="round"/>
<path d="M715.20,113.10 L742.70,113.10 L748.70,119.10 L748.70,158.60 L715.20,158.60 Z" fill="#fff" stroke="#2e2e2e" stroke-width="1.1" stroke-linejoin="round"/>
<path d="M742.70,113.10 L742.70,119.10 L748.70,119.10 Z" fill="#cfcfcf" stroke="#2e2e2e" stroke-width="0.8800000000000001" stroke-linejoin="round"/>
<line x1="724.00" y1="118.00" x2="738.00" y2="118.00" stroke="#939393" stroke-width="1.0"/>
<line x1="724.00" y1="120.30" x2="738.00" y2="120.30" stroke="#939393" stroke-width="1.0"/>
<line x1="726.00" y1="125.00" x2="744.00" y2="125.00" stroke="#939393" stroke-width="1.0"/>
<line x1="726.00" y1="127.50" x2="744.00" y2="127.50" stroke="#939393" stroke-width="1.0"/>
<line x1="726.00" y1="130.00" x2="744.00" y2="130.00" stroke="#939393" stroke-width="1.0"/>
<line x1="726.00" y1="132.50" x2="744.00" y2="132.50" stroke="#939393" stroke-width="1.0"/>
<line x1="726.00" y1="135.00" x2="744.00" y2="135.00" stroke="#939393" stroke-width="1.0"/>
<line x1="726.00" y1="137.50" x2="744.00" y2="137.50" stroke="#939393" stroke-width="1.0"/>
<line x1="726.00" y1="140.00" x2="744.00" y2="140.00" stroke="#939393" stroke-width="1.0"/>
<line x1="726.00" y1="142.50" x2="744.00" y2="142.50" stroke="#939393" stroke-width="1.0"/>
<line x1="726.00" y1="145.00" x2="738.00" y2="145.00" stroke="#939393" stroke-width="1.0"/>
<line x1="723.00" y1="153.50" x2="729.00" y2="153.50" stroke="#939393" stroke-width="1.0"/>
<circle cx="740.40" cy="150.70" r="4.10" fill="#c5d8f2" stroke="#6d9ad6" stroke-width="0.9"/>
<circle cx="740.40" cy="150.70" r="2.50" fill="#4a84cc"/>
<path d="M668.5,175.5 L669.3,146 Q670,137 678.9,131 L689.5,128.6 L696.5,137.5 L699,152 L698.8,175.5 Z" fill="#3e4a58" stroke="#1d242d" stroke-width="0.8"/>
<path d="M688.5,117.5 L701,117.5 L701.6,122 L702.6,124.6 L701.2,125.4 L701,129.3 L697.5,131.6 L693.5,131.2 L692,133 L687,131.5 Z" fill="#d9a57d" stroke="#6b4a35" stroke-width="0.4"/>
<path d="M680.5,117.2 L689.6,117.2 L689.8,121 L688.2,123.5 L688.6,127 L685,128.4 L681.6,125.2 Z" fill="#5b4030"/>
<ellipse cx="690.6" cy="123.6" rx="1.2" ry="1.9" fill="#c98f68"/>
<path d="M675.7,113.3 Q678,107.6 684.5,106 L701.2,104 Q703.6,105.2 702.8,108 L701.3,114.2 L679.7,116 Z" fill="#3a4350" stroke="#1d242d" stroke-width="0.7"/>
<path d="M679.6,115.4 L701.3,113.6 L701.5,117 L680.6,118.4 Z" fill="#2f3742" stroke="#1d242d" stroke-width="0.5"/>
<path d="M695.4,116.6 L703.9,118.4 L703.4,120.2 L695,119.2 Z" fill="#232932"/>
<path d="M680.5,130.6 L689.5,128.4 L692.5,133.5 L686,134 Z" fill="#333d49" stroke="#1d242d" stroke-width="0.4"/>
<path d="M719.5,125.9 L733.9,129.9 L725.9,144.4 L712.4,140.2 Z" fill="#3a3a3a" stroke="#1c1c1c" stroke-width="0.6" stroke-linejoin="round"/>
<path d="M720.3,127.9 L731.6,131 L725.1,142.4 L714.6,139.3 Z" fill="#f0f0f0"/>
<line x1="720.20" y1="130.60" x2="728.60" y2="133.00" stroke="#9a9a9a" stroke-width="0.7"/>
<line x1="718.90" y1="133.00" x2="727.30" y2="135.40" stroke="#9a9a9a" stroke-width="0.7"/>
<line x1="717.60" y1="135.40" x2="726.00" y2="137.80" stroke="#9a9a9a" stroke-width="0.7"/>
<line x1="716.30" y1="137.80" x2="724.70" y2="140.20" stroke="#9a9a9a" stroke-width="0.7"/>
<path d="M695.5,136.5 L710.8,139.6 L713,143 L711.4,145.6 L703.8,146.6 L698,148 Z" fill="#3e4a58" stroke="#1d242d" stroke-width="0.8" stroke-linejoin="round"/>
<path d="M697.6,158.8 L718.7,147.2 L722,149.6 L720.4,153.2 L702.8,167.6 L698.5,168 Z" fill="#3e4a58" stroke="#1d242d" stroke-width="0.8" stroke-linejoin="round"/>
<path d="M711,138.4 q3,-2 5,0.2 q1.2,2 -0.6,4.2 q-2.4,1.6 -4.2,0.2 Z" fill="#d9a57d" stroke="#6b4a35" stroke-width="0.4"/>
<path d="M718.6,146.2 q3.4,-2 5.8,0.6 q1.2,2.4 -1,4.2 q-2.6,1.4 -4.2,-0.6 Z" fill="#d9a57d" stroke="#6b4a35" stroke-width="0.4"/>
<path d="M684.6,134.4 l6.2,2.6 l-0.9,1.9 l-6.2,-2.5 Z" fill="#5b6571"/>
<path d="M755.60,132.30 L769.40,132.30 L769.40,127.90 L778.60,136.60 L769.40,145.30 L769.40,140.70 L755.60,140.70 Z" fill="url(#gg)" stroke="#17471d" stroke-width="1.25" stroke-linejoin="miter"/>
<path d="M785.10,113.10 L812.30,113.10 L818.30,119.10 L818.30,158.60 L785.10,158.60 Z" fill="#fff" stroke="#2e2e2e" stroke-width="1.1" stroke-linejoin="round"/>
<path d="M812.30,113.10 L812.30,119.10 L818.30,119.10 Z" fill="#cfcfcf" stroke="#2e2e2e" stroke-width="0.8800000000000001" stroke-linejoin="round"/>
<line x1="793.00" y1="118.00" x2="807.00" y2="118.00" stroke="#939393" stroke-width="1.0"/>
<line x1="793.00" y1="120.30" x2="807.00" y2="120.30" stroke="#939393" stroke-width="1.0"/>
<line x1="789.00" y1="125.00" x2="812.00" y2="125.00" stroke="#939393" stroke-width="1.0"/>
<line x1="789.00" y1="127.50" x2="812.00" y2="127.50" stroke="#939393" stroke-width="1.0"/>
<line x1="789.00" y1="130.00" x2="812.00" y2="130.00" stroke="#939393" stroke-width="1.0"/>
<line x1="789.00" y1="132.50" x2="812.00" y2="132.50" stroke="#939393" stroke-width="1.0"/>
<line x1="789.00" y1="135.00" x2="812.00" y2="135.00" stroke="#939393" stroke-width="1.0"/>
<line x1="789.00" y1="137.50" x2="812.00" y2="137.50" stroke="#939393" stroke-width="1.0"/>
<line x1="789.00" y1="140.00" x2="812.00" y2="140.00" stroke="#939393" stroke-width="1.0"/>
<line x1="789.00" y1="142.50" x2="812.00" y2="142.50" stroke="#939393" stroke-width="1.0"/>
<line x1="789.00" y1="145.00" x2="812.00" y2="145.00" stroke="#939393" stroke-width="1.0"/>
<line x1="789.00" y1="150.00" x2="797.00" y2="150.00" stroke="#939393" stroke-width="1.0"/>
<line x1="789.00" y1="152.50" x2="797.00" y2="152.50" stroke="#939393" stroke-width="1.0"/>
<path d="M797.3,134.9 L809,131.6 L816.7,142.9 L804.3,146.8 Z" fill="#3a3a3a" stroke="#1c1c1c" stroke-width="0.6" stroke-linejoin="round"/>
<path d="M799.4,135.9 L808.3,133.4 L814.4,142.2 L805,145.1 Z" fill="#f0f0f0"/>
<line x1="801.40" y1="137.60" x2="808.60" y2="135.60" stroke="#9a9a9a" stroke-width="0.7"/>
<line x1="802.90" y1="139.90" x2="810.10" y2="137.90" stroke="#9a9a9a" stroke-width="0.7"/>
<line x1="804.40" y1="142.20" x2="811.60" y2="140.20" stroke="#9a9a9a" stroke-width="0.7"/>
<path d="M825.3,175.5 L826,150 Q826.4,139 830,135.4 L836.5,131.8 L843.5,131.4 Q854.6,133.8 855.6,146 L855,175.5 Z" fill="#3f4645" stroke="#1f2322" stroke-width="0.8"/>
<path d="M830.7,120 L842.4,122 L842.6,131.2 L836.2,133 L830.9,130.6 Z" fill="#d6a07a"/>
<path d="M824.4,112.6 L829,111.6 L834,116 L836,124 L834.2,129.8 L829.4,129.4 L825.6,126.2 L825.2,122.4 L824,120.4 L825.2,118.4 Z" fill="#d6a07a" stroke="#6b4a35" stroke-width="0.4"/>
<path d="M823.8,113.8 Q823.6,105.4 834.4,105.3 Q845.8,105.6 845.5,117 L844.2,125.8 L837.2,123.4 L836.6,118.6 L833,119.4 L831.6,114.2 L828.6,111.8 L824.2,114.6 Z" fill="#5a3d2b" stroke="#2e1d13" stroke-width="0.5"/>
<ellipse cx="835.4" cy="121.2" rx="1.3" ry="2.1" fill="#c98f68" stroke="#6b4a35" stroke-width="0.3"/>
<path d="M830.4,130.8 L836.4,133.2 L843.4,130.6 L846.2,132.6 L836.6,136.4 L829.4,133.4 Z" fill="#343a39" stroke="#1f2322" stroke-width="0.4"/>
<path d="M829.5,139 L824.5,146 L817.5,157.2 L808.4,148.4 L805,152.2 L818.3,167.6 L826.4,162 L833,150 Z" fill="#3f4645" stroke="#1f2322" stroke-width="0.8" stroke-linejoin="round"/>
<path d="M822.4,145.2 L826.6,145.6 L826.8,149.4 L824.6,151.6 L822.2,149.6 Z" fill="#b8a070" stroke="#3a2d15" stroke-width="0.5"/>
<path d="M802.2,147 q2.6,-2.4 5.6,-0.2 q1.6,2.4 -0.6,4.6 q-2.6,1.6 -4.6,-0.4 Z" fill="#d6a07a" stroke="#6b4a35" stroke-width="0.4"/>
<path d="M812.6,138.2 l5.6,1 q2.2,1.4 1,3.6 q-2,1.4 -4,0.2 l-0.6,-2.4 l-2.2,-1 Z" fill="#d6a07a" stroke="#6b4a35" stroke-width="0.4"/>
<rect x="864.20" y="107.00" width="16.50" height="16.30" rx="3.4" fill="#3b9450" stroke="#1a4a22" stroke-width="1.4"/>
<path d="M868.23,115.65 L871.10,118.49 L877.35,111.64" fill="none" stroke="#e2fbe6" stroke-width="2.0279999999999974" stroke-linecap="round" stroke-linejoin="round"/>
<rect x="864.20" y="130.10" width="16.50" height="16.10" rx="3.4" fill="#3b9450" stroke="#1a4a22" stroke-width="1.4"/>
<path d="M868.23,138.65 L871.10,141.45 L877.35,134.69" fill="none" stroke="#e2fbe6" stroke-width="2.0279999999999974" stroke-linecap="round" stroke-linejoin="round"/>
<text x="676.25" y="187.60" font-size="11" fill="#222" textLength="178.75" lengthAdjust="spacingAndGlyphs" stroke="#222" stroke-width="0.26" stroke-linejoin="round">Проверка актуальности данных в паспорте</text>
<circle cx="658.50" cy="205.00" r="8.00" fill="#4a4a4a"/>
<g transform="translate(658.50 209.45) scale(0.84 1)"><text x="0" y="0" font-size="12.6" font-weight="bold" fill="#fff" text-anchor="middle">2</text></g>
<text x="672.50" y="210.10" font-size="14" font-weight="bold" fill="#161616" textLength="155.50" lengthAdjust="spacingAndGlyphs" stroke="#161616" stroke-width="0.42" stroke-linejoin="round">СОГЛАСОВАНИЕ РАЗМЕРОВ</text>
<rect x="652.00" y="215.50" width="231.40" height="80.00" rx="5" fill="#d9d9d9"/>
<path d="M688.8,219 L692.2,219 L703.9,224 L700.9,252.3 L679.1,252.3 L676.2,224 Z" fill="#858585" stroke="#2a2a2a" stroke-width="1" stroke-linejoin="round"/>
<rect x="673.20" y="252.30" width="33.60" height="5.90" fill="#858585" stroke="#2a2a2a" stroke-width="1"/>
<line x1="661.30" y1="219.50" x2="672.50" y2="219.50" stroke="#222" stroke-width="0.9"/>
<line x1="661.30" y1="258.00" x2="672.50" y2="258.00" stroke="#222" stroke-width="0.9"/>
<line x1="666.30" y1="222.00" x2="666.30" y2="255.50" stroke="#161616" stroke-width="1"/>
<path d="M666.30,220.00 L668.50,225.00 L664.10,225.00 Z" fill="#161616"/>
<path d="M666.30,257.60 L664.10,252.60 L668.50,252.60 Z" fill="#161616"/>
<g transform="translate(661.20 238.80) rotate(-90)"><text x="-3.80" y="3.00" font-size="8.6" font-weight="bold" stroke="#161616" stroke-width="0.26" stroke-linejoin="round" fill="#161616" textLength="7.60" lengthAdjust="spacingAndGlyphs">W</text></g>
<line x1="673.00" y1="261.30" x2="673.00" y2="269.50" stroke="#222" stroke-width="0.9"/>
<line x1="707.00" y1="261.30" x2="707.00" y2="269.50" stroke="#222" stroke-width="0.9"/>
<line x1="676.00" y1="265.50" x2="684.00" y2="265.50" stroke="#161616" stroke-width="1"/>
<line x1="696.00" y1="265.50" x2="704.00" y2="265.50" stroke="#161616" stroke-width="1"/>
<path d="M673.60,265.50 L678.60,263.30 L678.60,267.70 Z" fill="#161616"/>
<path d="M706.40,265.50 L701.40,267.70 L701.40,263.30 Z" fill="#161616"/>
<text x="686.30" y="268.60" font-size="8.6" font-weight="bold" fill="#161616" textLength="7.60" lengthAdjust="spacingAndGlyphs" stroke="#161616" stroke-width="0.26" stroke-linejoin="round">W</text>
<line x1="708.80" y1="252.00" x2="717.50" y2="252.00" stroke="#222" stroke-width="0.9"/>
<line x1="708.80" y1="258.60" x2="717.50" y2="258.60" stroke="#222" stroke-width="0.9"/>
<line x1="713.80" y1="244.50" x2="713.80" y2="248.00" stroke="#161616" stroke-width="1"/>
<path d="M713.80,251.60 L711.80,247.40 L715.80,247.40 Z" fill="#161616"/>
<line x1="713.80" y1="262.50" x2="713.80" y2="266.30" stroke="#161616" stroke-width="1"/>
<path d="M713.80,259.00 L715.80,263.20 L711.80,263.20 Z" fill="#161616"/>
<text x="738.00" y="228.50" font-size="10.4" font-weight="bold" fill="#222" textLength="104.00" lengthAdjust="spacingAndGlyphs" stroke="#222" stroke-width="0.31" stroke-linejoin="round">ТЕХНИЧЕСКИЕ ТРЕБОВАНИЯ</text>
<text x="720.50" y="242.50" font-size="11" fill="#222" textLength="140.00" lengthAdjust="spacingAndGlyphs" stroke="#222" stroke-width="0.26" stroke-linejoin="round">Ширина надгробия &lt;= Ширины участка</text>
<text x="720.50" y="257.00" font-size="11" fill="#222" textLength="76.50" lengthAdjust="spacingAndGlyphs" stroke="#222" stroke-width="0.26" stroke-linejoin="round">Высота надгробия &lt;×</text>
<text x="799.50" y="256.80" font-size="10.6" font-weight="bold" fill="#222" textLength="46.00" lengthAdjust="spacingAndGlyphs" stroke="#222" stroke-width="0.32" stroke-linejoin="round">НОРМАТИВА</text>
<text x="799.50" y="266.60" font-size="10.6" font-weight="bold" fill="#222" textLength="44.00" lengthAdjust="spacingAndGlyphs" stroke="#222" stroke-width="0.32" stroke-linejoin="round">КЛАДВИЩА</text>
<rect x="864.20" y="222.20" width="16.60" height="16.40" rx="3.4" fill="#3b9450" stroke="#1a4a22" stroke-width="1.4"/>
<path d="M868.25,230.90 L871.14,233.76 L877.43,226.87" fill="none" stroke="#e2fbe6" stroke-width="2.04" stroke-linecap="round" stroke-linejoin="round"/>
<rect x="864.20" y="245.20" width="16.60" height="16.40" rx="3.4" fill="#3b9450" stroke="#1a4a22" stroke-width="1.4"/>
<path d="M868.25,253.90 L871.14,256.76 L877.43,249.87" fill="none" stroke="#e2fbe6" stroke-width="2.04" stroke-linecap="round" stroke-linejoin="round"/>
<rect x="662.00" y="273.75" width="203.00" height="18.25" rx="2.5" fill="#f3c333"/>
<path d="M674.3,276.6 L681.6,290 L667,290 Z" fill="#f6cf3f" stroke="#2a2a2a" stroke-width="1.2" stroke-linejoin="round"/>
<line x1="674.30" y1="281.00" x2="674.30" y2="286.00" stroke="#2a2a2a" stroke-width="1.4"/>
<circle cx="674.30" cy="288.00" r="0.80" fill="#2a2a2a"/>
<text x="687.00" y="287.50" font-size="11.5" font-weight="bold" fill="#222" textLength="173.50" lengthAdjust="spacingAndGlyphs" stroke="#222" stroke-width="0.34" stroke-linejoin="round">Важно соблюдать допустимые размеры!</text>
<text x="674.25" y="308.10" font-size="11" fill="#222" textLength="180.75" lengthAdjust="spacingAndGlyphs" stroke="#222" stroke-width="0.26" stroke-linejoin="round">Сверка размеров надгробия с нормативами</text>
<circle cx="659.30" cy="325.60" r="8.00" fill="#4a4a4a"/>
<g transform="translate(659.30 330.05) scale(0.84 1)"><text x="0" y="0" font-size="12.6" font-weight="bold" fill="#fff" text-anchor="middle">3</text></g>
<text x="672.00" y="330.60" font-size="14" font-weight="bold" fill="#161616" textLength="160.50" lengthAdjust="spacingAndGlyphs" stroke="#161616" stroke-width="0.42" stroke-linejoin="round">ФИНАЛЬНОЕ УТВЕРЖДЕНИЕ</text>
<rect x="652.00" y="335.50" width="231.40" height="71.50" rx="5" fill="#d9d9d9"/>
<path d="M676.80,339.40 L716.50,339.40 L724.50,347.40 L724.50,404.30 L676.80,404.30 Z" fill="#fff" stroke="#2e2e2e" stroke-width="1.2" stroke-linejoin="round"/>
<path d="M716.50,339.40 L716.50,347.40 L724.50,347.40 Z" fill="#cfcfcf" stroke="#2e2e2e" stroke-width="0.96" stroke-linejoin="round"/>
<path d="M697.6,343.5 l3.6,-1.3 l3.6,1.3 l-0.8,5.4 l-2.8,2.6 l-2.8,-2.6 Z" fill="#9a9a9a"/>
<line x1="686.70" y1="354.40" x2="716.00" y2="354.40" stroke="#777" stroke-width="0.8"/>
<line x1="690.00" y1="356.60" x2="712.00" y2="356.60" stroke="#555" stroke-width="1.2"/>
<line x1="686.00" y1="358.70" x2="716.00" y2="358.70" stroke="#555" stroke-width="1.2"/>
<line x1="692.00" y1="360.80" x2="710.00" y2="360.80" stroke="#666" stroke-width="1"/>
<line x1="681.80" y1="364.60" x2="719.90" y2="364.60" stroke="#939393" stroke-width="1.0"/>
<line x1="681.80" y1="367.30" x2="719.90" y2="367.30" stroke="#939393" stroke-width="1.0"/>
<line x1="681.80" y1="370.00" x2="719.90" y2="370.00" stroke="#939393" stroke-width="1.0"/>
<line x1="681.80" y1="372.60" x2="719.90" y2="372.60" stroke="#939393" stroke-width="1.0"/>
<line x1="681.80" y1="375.30" x2="719.90" y2="375.30" stroke="#939393" stroke-width="1.0"/>
<line x1="681.80" y1="377.90" x2="719.90" y2="377.90" stroke="#939393" stroke-width="1.0"/>
<line x1="681.80" y1="380.50" x2="704.00" y2="380.50" stroke="#939393" stroke-width="1.0"/>
<line x1="681.80" y1="383.10" x2="719.90" y2="383.10" stroke="#939393" stroke-width="1.0"/>
<line x1="681.80" y1="385.70" x2="713.70" y2="385.70" stroke="#939393" stroke-width="1.0"/>
<circle cx="691.10" cy="394.40" r="7.80" fill="#a6b8e0" stroke="#6f86c2" stroke-width="1.3"/>
<circle cx="691.10" cy="394.40" r="5.46" fill="#d3dcf0" stroke="#6f86c2" stroke-width="0.7"/>
<rect x="688.76" y="392.06" width="4.68" height="3.28" fill="#6f86c2"/>
<path d="M688.29,392.06 L691.10,390.34 L693.91,392.06 Z" fill="#6f86c2"/>
<line x1="687.82" y1="396.74" x2="694.38" y2="396.74" stroke="#6f86c2" stroke-width="0.8"/>
<path d="M700.5,395.4 c2.0,-6.1 5.4,-7.4 5.9,-3.2 c0.4,3.2 -4.1,4.9 -3.2,1.4 c0.8,-3.0 4.1,-0.8 5.7,-2.2 c2.0,-1.1 2.2,1.6 4.3,0.3 l5.4,-3.2" fill="none" stroke="#3a4a8a" stroke-width="0.95" stroke-linecap="round" stroke-linejoin="round"/>
<path d="M711.5,397.9 l4.2,-10.5" fill="none" stroke="#3a4a8a" stroke-width="0.9" stroke-linecap="round"/>
<line x1="703.00" y1="396.60" x2="718.00" y2="396.60" stroke="#8f8f8f" stroke-width="0.6"/>
<line x1="705.00" y1="398.00" x2="718.00" y2="398.00" stroke="#a5a5a5" stroke-width="0.5"/>
<path d="M728.00,361.70 L737.30,371.90 L728.00,382.10 Z" fill="url(#gg)" stroke="#17471d" stroke-width="1.2"/>
<path d="M740.10,339.40 L780.00,339.40 L788.00,347.40 L788.00,404.30 L740.10,404.30 Z" fill="#fff" stroke="#2e2e2e" stroke-width="1.2" stroke-linejoin="round"/>
<path d="M780.00,339.40 L780.00,347.40 L788.00,347.40 Z" fill="#cfcfcf" stroke="#2e2e2e" stroke-width="0.96" stroke-linejoin="round"/>
<line x1="763.90" y1="344.30" x2="777.70" y2="344.30" stroke="#939393" stroke-width="1.0"/>
<line x1="763.90" y1="346.50" x2="777.70" y2="346.50" stroke="#939393" stroke-width="1.0"/>
<line x1="751.00" y1="353.70" x2="777.70" y2="353.70" stroke="#555" stroke-width="1.1"/>
<line x1="745.20" y1="358.30" x2="782.90" y2="358.30" stroke="#939393" stroke-width="1.0"/>
<line x1="745.20" y1="361.10" x2="782.90" y2="361.10" stroke="#939393" stroke-width="1.0"/>
<line x1="745.20" y1="363.90" x2="782.90" y2="363.90" stroke="#939393" stroke-width="1.0"/>
<line x1="745.20" y1="366.60" x2="782.90" y2="366.60" stroke="#939393" stroke-width="1.0"/>
<line x1="745.20" y1="369.20" x2="782.90" y2="369.20" stroke="#939393" stroke-width="1.0"/>
<line x1="745.20" y1="371.80" x2="767.30" y2="371.80" stroke="#939393" stroke-width="1.0"/>
<line x1="745.20" y1="374.70" x2="782.90" y2="374.70" stroke="#939393" stroke-width="1.0"/>
<line x1="745.20" y1="377.50" x2="782.90" y2="377.50" stroke="#939393" stroke-width="1.0"/>
<line x1="745.20" y1="380.20" x2="768.00" y2="380.20" stroke="#939393" stroke-width="1.0"/>
<line x1="745.00" y1="388.20" x2="759.00" y2="388.20" stroke="#666" stroke-width="1.1"/>
<line x1="745.00" y1="390.30" x2="759.00" y2="390.30" stroke="#777" stroke-width="0.9"/>
<line x1="745.00" y1="393.80" x2="760.00" y2="393.80" stroke="#888" stroke-width="0.8"/>
<line x1="745.00" y1="395.60" x2="760.00" y2="395.60" stroke="#888" stroke-width="0.8"/>
<circle cx="774.30" cy="391.80" r="8.80" fill="#d5e0f2" stroke="#5a7fc0" stroke-width="1.2"/>
<circle cx="774.30" cy="391.80" r="6.00" fill="none" stroke="#5a7fc0" stroke-width="0.7"/>
<path d="M768.5,394 l11,-5 l1.5,1 l-6,3 l3,1 l-1,1 l-4,-0.6 Z" fill="#5a6fa8"/>
<path d="M791.20,361.90 L800.20,372.00 L791.20,382.10 Z" fill="url(#gg)" stroke="#17471d" stroke-width="1.2"/>
<path d="M803.20,339.40 L843.70,339.40 L851.70,347.40 L851.70,404.40 L803.20,404.40 Z" fill="#fff" stroke="#2e2e2e" stroke-width="1.2" stroke-linejoin="round"/>
<path d="M843.70,339.40 L843.70,347.40 L851.70,347.40 Z" fill="#cfcfcf" stroke="#2e2e2e" stroke-width="0.96" stroke-linejoin="round"/>
<line x1="827.10" y1="344.70" x2="840.50" y2="344.70" stroke="#939393" stroke-width="1.0"/>
<line x1="827.10" y1="346.80" x2="840.50" y2="346.80" stroke="#939393" stroke-width="1.0"/>
<line x1="815.10" y1="355.20" x2="839.80" y2="355.20" stroke="#555" stroke-width="1.1"/>
<line x1="808.10" y1="359.70" x2="846.50" y2="359.70" stroke="#939393" stroke-width="1.0"/>
<line x1="808.10" y1="362.40" x2="846.50" y2="362.40" stroke="#939393" stroke-width="1.0"/>
<line x1="808.10" y1="365.00" x2="846.50" y2="365.00" stroke="#939393" stroke-width="1.0"/>
<line x1="808.10" y1="367.70" x2="846.50" y2="367.70" stroke="#939393" stroke-width="1.0"/>
<line x1="808.10" y1="370.30" x2="821.90" y2="370.30" stroke="#939393" stroke-width="1.0"/>
<line x1="808.10" y1="373.00" x2="846.50" y2="373.00" stroke="#939393" stroke-width="1.0"/>
<line x1="808.10" y1="375.60" x2="846.50" y2="375.60" stroke="#939393" stroke-width="1.0"/>
<line x1="808.10" y1="378.30" x2="831.60" y2="378.30" stroke="#939393" stroke-width="1.0"/>
<circle cx="816.60" cy="389.60" r="8.40" fill="#b9c3dc" stroke="#7a8cba" stroke-width="1.3"/>
<circle cx="816.60" cy="389.60" r="5.88" fill="#e0e5f0" stroke="#7a8cba" stroke-width="0.7"/>
<rect x="814.08" y="387.08" width="5.04" height="3.53" fill="#7a8cba"/>
<path d="M813.58,387.08 L816.60,385.23 L819.62,387.08 Z" fill="#7a8cba"/>
<line x1="813.07" y1="392.12" x2="820.13" y2="392.12" stroke="#7a8cba" stroke-width="0.8"/>
<path d="M826.5,390.4 c2.0,-6.1 5.4,-7.4 5.9,-3.2 c0.4,3.2 -4.1,4.9 -3.2,1.4 c0.8,-3.0 4.1,-0.8 5.7,-2.2 c2.0,-1.1 2.2,1.6 4.3,0.3 l5.4,-3.2" fill="none" stroke="#55648f" stroke-width="0.95" stroke-linecap="round" stroke-linejoin="round"/>
<path d="M837.5,392.9 l4.2,-10.5" fill="none" stroke="#55648f" stroke-width="0.9" stroke-linecap="round"/>
<line x1="829.00" y1="391.60" x2="844.00" y2="391.60" stroke="#8f8f8f" stroke-width="0.6"/>
<line x1="831.00" y1="393.00" x2="844.00" y2="393.00" stroke="#a5a5a5" stroke-width="0.5"/>
<rect x="864.20" y="342.40" width="16.20" height="16.10" rx="3.4" fill="#3b9450" stroke="#1a4a22" stroke-width="1.4"/>
<path d="M868.15,350.94 L870.97,353.75 L877.11,346.99" fill="none" stroke="#e2fbe6" stroke-width="1.9920000000000027" stroke-linecap="round" stroke-linejoin="round"/>
<rect x="864.20" y="364.70" width="16.20" height="15.80" rx="3.4" fill="#3b9450" stroke="#1a4a22" stroke-width="1.4"/>
<path d="M868.15,373.09 L870.97,375.84 L877.11,369.20" fill="none" stroke="#e2fbe6" stroke-width="1.9920000000000027" stroke-linecap="round" stroke-linejoin="round"/>
<text x="642.50" y="420.60" font-size="11" fill="#222" textLength="242.00" lengthAdjust="spacingAndGlyphs" stroke="#222" stroke-width="0.26" stroke-linejoin="round">Официальное разрешение на установку общего надгробия</text>
<rect x="0.00" y="428.00" width="900.00" height="74.00" fill="#3e4140"/>
<text x="16.70" y="448.10" font-size="14" font-weight="bold" fill="#fff" textLength="59.90" lengthAdjust="spacingAndGlyphs" stroke="#fff" stroke-width="0.42" stroke-linejoin="round">ЧЕК-ЛИСТ</text>
<text x="79.50" y="448.10" font-size="14" font-weight="bold" fill="#fff" textLength="91.10" lengthAdjust="spacingAndGlyphs" stroke="#fff" stroke-width="0.42" stroke-linejoin="round">НЕОБХОДИМЫХ</text>
<text x="173.50" y="448.10" font-size="14" font-weight="bold" fill="#fff" textLength="81.00" lengthAdjust="spacingAndGlyphs" stroke="#fff" stroke-width="0.42" stroke-linejoin="round">ДОКУМЕНТОВ</text>
<rect x="17.70" y="456.40" width="13.40" height="13.00" rx="2.5" fill="#3b9450" stroke="#1a4a22" stroke-width="1.4"/>
<path d="M20.95,463.30 L23.30,465.58 L28.40,460.09" fill="none" stroke="#e2fbe6" stroke-width="1.656" stroke-linecap="round" stroke-linejoin="round"/>
<rect x="17.70" y="474.70" width="13.40" height="13.10" rx="2.5" fill="#3b9450" stroke="#1a4a22" stroke-width="1.4"/>
<path d="M20.95,481.65 L23.30,483.95 L28.40,478.42" fill="none" stroke="#e2fbe6" stroke-width="1.656" stroke-linecap="round" stroke-linejoin="round"/>
<rect x="173.20" y="456.40" width="13.50" height="13.00" rx="2.5" fill="#3b9450" stroke="#1a4a22" stroke-width="1.4"/>
<path d="M176.47,463.30 L178.84,465.58 L183.98,460.09" fill="none" stroke="#e2fbe6" stroke-width="1.6680000000000006" stroke-linecap="round" stroke-linejoin="round"/>
<rect x="173.20" y="474.70" width="13.50" height="13.10" rx="2.5" fill="#3b9450" stroke="#1a4a22" stroke-width="1.4"/>
<path d="M176.47,481.65 L178.84,483.95 L183.98,478.42" fill="none" stroke="#e2fbe6" stroke-width="1.6680000000000006" stroke-linecap="round" stroke-linejoin="round"/>
<text x="36.25" y="468.00" font-size="12.6" fill="#ececec" textLength="126.75" lengthAdjust="spacingAndGlyphs" stroke="#ececec" stroke-width="0.30" stroke-linejoin="round">Заявление на объединение</text>
<text x="36.25" y="486.30" font-size="12.6" fill="#ececec" textLength="100.75" lengthAdjust="spacingAndGlyphs" stroke="#ececec" stroke-width="0.30" stroke-linejoin="round">Паспорт закоронения</text>
<text x="192.00" y="468.00" font-size="12.6" fill="#ececec" textLength="113.00" lengthAdjust="spacingAndGlyphs" stroke="#ececec" stroke-width="0.30" stroke-linejoin="round">Свидетельства о смерти</text>
<text x="192.00" y="486.30" font-size="12.6" fill="#ececec" textLength="138.00" lengthAdjust="spacingAndGlyphs" stroke="#ececec" stroke-width="0.30" stroke-linejoin="round">Паспорт ответственного лица</text>
<text x="346.50" y="448.10" font-size="14" font-weight="bold" fill="#fff" textLength="72.10" lengthAdjust="spacingAndGlyphs" stroke="#fff" stroke-width="0.42" stroke-linejoin="round">ВРЕМЕННАЯ</text>
<text x="421.60" y="448.10" font-size="14" font-weight="bold" fill="#fff" textLength="43.10" lengthAdjust="spacingAndGlyphs" stroke="#fff" stroke-width="0.42" stroke-linejoin="round">ШКАЛА</text>
<text x="468.10" y="448.10" font-size="14" font-weight="bold" fill="#fff" textLength="82.90" lengthAdjust="spacingAndGlyphs" stroke="#fff" stroke-width="0.42" stroke-linejoin="round">ОФОРМЛЕНИЯ</text>
<text x="360.75" y="464.80" font-size="10.8" fill="#ececec" textLength="20.00" lengthAdjust="spacingAndGlyphs" stroke="#ececec" stroke-width="0.26" stroke-linejoin="round">Сбор</text>
<text x="346.25" y="475.80" font-size="10.8" fill="#ececec" textLength="48.75" lengthAdjust="spacingAndGlyphs" stroke="#ececec" stroke-width="0.26" stroke-linejoin="round">документов</text>
<text x="417.50" y="464.80" font-size="10.8" fill="#ececec" textLength="28.75" lengthAdjust="spacingAndGlyphs" stroke="#ececec" stroke-width="0.26" stroke-linejoin="round">Подача</text>
<text x="410.75" y="475.80" font-size="10.8" fill="#ececec" textLength="42.25" lengthAdjust="spacingAndGlyphs" stroke="#ececec" stroke-width="0.26" stroke-linejoin="round">заявления</text>
<text x="470.00" y="470.20" font-size="10.8" fill="#ececec" textLength="70.50" lengthAdjust="spacingAndGlyphs" stroke="#ececec" stroke-width="0.26" stroke-linejoin="round">Перерегистрация</text>
<text x="558.25" y="464.80" font-size="10.8" fill="#ececec" textLength="39.25" lengthAdjust="spacingAndGlyphs" stroke="#ececec" stroke-width="0.26" stroke-linejoin="round">Проверка</text>
<text x="561.25" y="475.80" font-size="10.8" fill="#ececec" textLength="32.50" lengthAdjust="spacingAndGlyphs" stroke="#ececec" stroke-width="0.26" stroke-linejoin="round">проекта</text>
<text x="617.50" y="464.80" font-size="10.8" fill="#ececec" textLength="45.75" lengthAdjust="spacingAndGlyphs" stroke="#ececec" stroke-width="0.26" stroke-linejoin="round">Финальное</text>
<text x="613.25" y="475.80" font-size="10.8" fill="#ececec" textLength="54.25" lengthAdjust="spacingAndGlyphs" stroke="#ececec" stroke-width="0.26" stroke-linejoin="round">утверждение</text>
<line x1="398.75" y1="466.80" x2="405.25" y2="466.80" stroke="#ececec" stroke-width="1"/>
<path d="M403.25,464.60 L406.25,466.80 L403.25,469.00" fill="none" stroke="#ececec" stroke-width="1"/>
<line x1="457.50" y1="466.80" x2="464.00" y2="466.80" stroke="#ececec" stroke-width="1"/>
<path d="M462.00,464.60 L465.00,466.80 L462.00,469.00" fill="none" stroke="#ececec" stroke-width="1"/>
<line x1="544.50" y1="466.80" x2="551.00" y2="466.80" stroke="#ececec" stroke-width="1"/>
<path d="M549.00,464.60 L552.00,466.80 L549.00,469.00" fill="none" stroke="#ececec" stroke-width="1"/>
<line x1="602.00" y1="466.80" x2="609.00" y2="466.80" stroke="#ececec" stroke-width="1"/>
<path d="M607.00,464.60 L610.00,466.80 L607.00,469.00" fill="none" stroke="#ececec" stroke-width="1"/>
<line x1="346.25" y1="480.50" x2="346.25" y2="485.50" stroke="#ececec" stroke-width="1"/>
<line x1="346.25" y1="483.00" x2="395.50" y2="483.00" stroke="#ececec" stroke-width="1"/>
<path d="M397.50,483.00 L393.00,481.00 L393.00,485.00 Z" fill="#ececec"/>
<line x1="408.00" y1="480.50" x2="408.00" y2="485.50" stroke="#ececec" stroke-width="1"/>
<line x1="408.00" y1="483.00" x2="455.50" y2="483.00" stroke="#ececec" stroke-width="1"/>
<path d="M457.50,483.00 L453.00,481.00 L453.00,485.00 Z" fill="#ececec"/>
<line x1="467.00" y1="480.50" x2="467.00" y2="485.50" stroke="#ececec" stroke-width="1"/>
<line x1="467.00" y1="483.00" x2="541.75" y2="483.00" stroke="#ececec" stroke-width="1"/>
<path d="M543.75,483.00 L539.25,481.00 L539.25,485.00 Z" fill="#ececec"/>
<line x1="553.75" y1="480.50" x2="553.75" y2="485.50" stroke="#ececec" stroke-width="1"/>
<line x1="553.75" y1="483.00" x2="600.00" y2="483.00" stroke="#ececec" stroke-width="1"/>
<path d="M602.00,483.00 L597.50,481.00 L597.50,485.00 Z" fill="#ececec"/>
<line x1="612.00" y1="480.50" x2="612.00" y2="485.50" stroke="#ececec" stroke-width="1"/>
<line x1="612.00" y1="483.00" x2="665.50" y2="483.00" stroke="#ececec" stroke-width="1"/>
<path d="M667.50,483.00 L663.00,481.00 L663.00,485.00 Z" fill="#ececec"/>
<text x="413.75" y="494.20" font-size="8.6" fill="#ececec" textLength="37.00" lengthAdjust="spacingAndGlyphs" stroke="#ececec" stroke-width="0.21" stroke-linejoin="round">1-2 недели</text>
<text x="485.00" y="494.20" font-size="8.6" fill="#ececec" textLength="41.25" lengthAdjust="spacingAndGlyphs" stroke="#ececec" stroke-width="0.21" stroke-linejoin="round">~1-2 недели</text>
<text x="558.75" y="494.20" font-size="8.6" fill="#ececec" textLength="37.50" lengthAdjust="spacingAndGlyphs" stroke="#ececec" stroke-width="0.21" stroke-linejoin="round">1-2 недели</text>
<rect x="673.60" y="432.60" width="219.40" height="66.30" rx="4.5" fill="#fdfdfd"/>
<text x="682.50" y="446.30" font-size="10.8" font-weight="bold" fill="#1c1c1c" textLength="201.75" lengthAdjust="spacingAndGlyphs" stroke="#1c1c1c" stroke-width="0.32" stroke-linejoin="round">КОНТАКТНЫЕ ДАННЫЕ ОТВЕТСТВЕННЫХ ЛИЦ</text>
<circle cx="687.20" cy="456.00" r="2.50" fill="#7a7a7a"/>
<path d="M682.6,462.6 Q682.6,458.6 687.2,458.6 Q691.8,458.6 691.8,462.6 Z" fill="#7a7a7a"/>
<text x="696.25" y="462.50" font-size="12.6" fill="#1c1c1c" textLength="124.25" lengthAdjust="spacingAndGlyphs" stroke="#1c1c1c" stroke-width="0.30" stroke-linejoin="round">Администрация Кладбища</text>
<g transform="translate(687.0 473.3) scale(1.18)"><path d="M-3.6,-3.4 q-0.6,3.6 2.2,5.6 q2.2,1.8 4.8,1.2 l0.4,-2 l-2,-1 l-1,1 q-2,-0.8 -2.6,-3 l1,-0.8 l-0.8,-2 Z" fill="#6a6a6a"/></g>
<text x="696.25" y="477.60" font-size="12.6" fill="#1c1c1c" textLength="95.50" lengthAdjust="spacingAndGlyphs" stroke="#1c1c1c" stroke-width="0.30" stroke-linejoin="round">Юридический Отдел</text>
<g transform="translate(687.0 488.9) scale(1.18)"><path d="M-3.6,-3.4 q-0.6,3.6 2.2,5.6 q2.2,1.8 4.8,1.2 l0.4,-2 l-2,-1 l-1,1 q-2,-0.8 -2.6,-3 l1,-0.8 l-0.8,-2 Z" fill="#6a6a6a"/></g>
<text x="696.25" y="493.30" font-size="12.6" fill="#1c1c1c" textLength="131.75" lengthAdjust="spacingAndGlyphs" stroke="#1c1c1c" stroke-width="0.30" stroke-linejoin="round">Отдел Установки Надгробий</text>
</svg></body></html>
